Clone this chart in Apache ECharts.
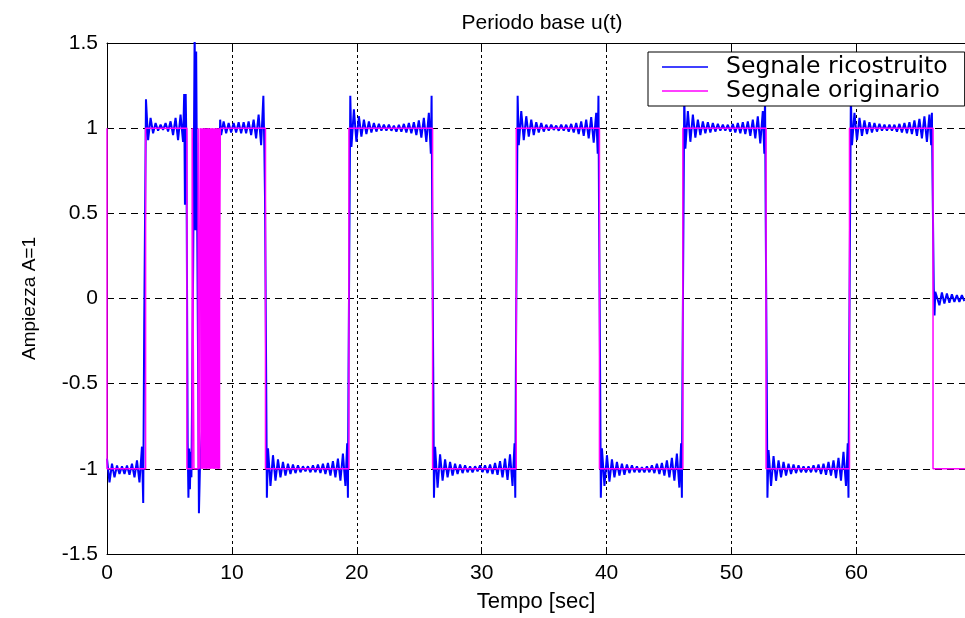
<!DOCTYPE html>
<html><head><meta charset="utf-8">
<script src="https://cdn.jsdelivr.net/npm/echarts@6/dist/echarts.min.js"></script>
<style>html,body{margin:0;padding:0;background:#fff}#c{width:965px;height:618px}</style>
</head><body><div id="c"></div>
<script>
// ---------- DATA ----------
const titleText = 'Periodo base u(t)';
const xName = 'Tempo [sec]';
const yName = 'Ampiezza A=1';
const seriesNames = ['Segnale ricostruito', 'Segnale originario'];

// Original signal: switch times and the level held from each time on
const origT = [0, 0, 3.09, 6.40, 6.82, 6.96, 7.30, 7.40,
  7.47, 7.63, 7.79, 7.95, 8.11, 8.27, 8.43, 8.59, 8.75, 8.91, 9.07,
  12.69, 19.37, 26.07, 32.77, 39.43, 46.11, 52.77, 59.45, 66.14, 68.7];
const origV = [1, -1, 1, -1, 1, -1, 1, -1,
  1, -1, 1, -1, 1, -1, 1, -1, 1, -1, 1,
  -1, 1, -1, 1, -1, 1, -1, 1, -1, -1];
// Stretch where the original signal switches so fast it reads as a solid block
const fastSwitchStart = 7.47;
const fastSwitchEnd = 9.07;

// Reconstructed signal: ringing samples on each plateau (sample step ringStep)
const ringStep = 0.2;
const ringStarts = [0, 3.29, 9.14, 12.89, 19.57, 26.27, 32.97, 39.63, 46.31, 52.97, 59.65, 66.45];
const ring0 = [-0.94, -1.08, -0.97, -1.05, -0.98, -1.03, -0.985, -1.03, -0.98, -1.035, -0.97, -1.05, -0.95, -1.08, -0.87];
const ring1 = [0.93, 1.06, 0.97, 1.03, 0.985, 1.02, 0.99, 1.03, 0.98, 1.04, 0.96, 1.06, 0.93, 1.08, 0.92];
const ring2 = [0.96, 1.04, 0.97, 1.03, 0.975, 1.03, 0.975, 1.035, 0.97, 1.035, 0.97, 1.04, 0.96, 1.05, 0.94, 1.08, 0.9];
const ring3 = [-0.88, -1.10, -0.92, -1.07, -0.945, -1.05, -0.96, -1.04, -0.97, -1.03, -0.975, -1.025, -0.98, -1.02, -0.985, -1.015, -0.985, -1.02, -0.98, -1.02, -0.975, -1.025, -0.97, -1.03, -0.965, -1.04, -0.955, -1.05, -0.94, -1.07, -0.91, -1.1];
const ring4 = [0.89, 1.11, 0.92, 1.07, 0.95, 1.05, 0.965, 1.04, 0.975, 1.03, 0.98, 1.025, 0.985, 1.02, 0.985, 1.02, 0.985, 1.015, 0.98, 1.02, 0.98, 1.025, 0.975, 1.03, 0.97, 1.035, 0.96, 1.045, 0.945, 1.06, 0.92, 1.09];
const ring5 = [-0.87, -1.11, -0.915, -1.07, -0.945, -1.05, -0.96, -1.04, -0.97, -1.03, -0.975, -1.025, -0.98, -1.02, -0.985, -1.02, -0.985, -1.015, -0.98, -1.02, -0.98, -1.025, -0.975, -1.03, -0.965, -1.035, -0.955, -1.05, -0.94, -1.065, -0.915, -1.1];
const ring6 = [0.90, 1.10, 0.93, 1.07, 0.95, 1.05, 0.96, 1.035, 0.975, 1.03, 0.98, 1.02, 0.985, 1.02, 0.99, 1.015, 0.985, 1.02, 0.985, 1.02, 0.98, 1.025, 0.975, 1.03, 0.965, 1.04, 0.955, 1.05, 0.94, 1.065, 0.915, 1.09];
const ring7 = [-0.88, -1.1, -0.92, -1.075, -0.945, -1.05, -0.96, -1.04, -0.97, -1.035, -0.975, -1.025, -0.98, -1.02, -0.985, -1.02, -0.99, -1.02, -0.985, -1.02, -0.98, -1.025, -0.97, -1.03, -0.965, -1.04, -0.95, -1.05, -0.935, -1.07, -0.91, -1.11];
const ring8 = [0.88, 1.10, 0.92, 1.08, 0.945, 1.05, 0.96, 1.04, 0.97, 1.035, 0.975, 1.03, 0.98, 1.025, 0.985, 1.02, 0.985, 1.02, 0.98, 1.025, 0.975, 1.03, 0.97, 1.035, 0.965, 1.04, 0.955, 1.05, 0.94, 1.07, 0.91, 1.1];
const ring9 = [-0.89, -1.1, -0.925, -1.07, -0.95, -1.05, -0.96, -1.04, -0.97, -1.03, -0.975, -1.025, -0.98, -1.02, -0.985, -1.02, -0.985, -1.02, -0.98, -1.02, -0.975, -1.03, -0.97, -1.035, -0.96, -1.04, -0.95, -1.055, -0.935, -1.07, -0.9, -1.1];
const ring10 = [0.90, 1.09, 0.93, 1.06, 0.955, 1.045, 0.965, 1.035, 0.975, 1.03, 0.98, 1.025, 0.985, 1.02, 0.985, 1.02, 0.985, 1.02, 0.98, 1.025, 0.975, 1.03, 0.97, 1.035, 0.965, 1.045, 0.955, 1.055, 0.94, 1.07, 0.92, 1.08];
const ring11 = [0.05, -0.04, 0.035, -0.03, 0.03, -0.025, 0.025, -0.02, 0.02, -0.02, 0.02, -0.015];

// Reconstructed signal: points around the jumps and the irregular stretch
const transT = [2.9, 2.98, 3.12,
  6.18, 6.24, 6.3, 6.36, 6.46, 6.52, 6.58, 6.64, 6.7, 6.76, 6.9, 7.02, 7.08, 7.14, 7.3, 7.36, 7.44, 8.2, 8.98, 9.06,
  12.52, 12.6, 12.65, 12.74, 12.8,
  19.23, 19.29, 19.34, 19.42, 19.48,
  25.93, 25.99, 26.04, 26.12, 26.18,
  32.63, 32.69, 32.74, 32.82, 32.88,
  39.29, 39.35, 39.40, 39.48, 39.54,
  45.97, 46.03, 46.08, 46.16, 46.22,
  52.63, 52.69, 52.74, 52.82, 52.88,
  59.31, 59.37, 59.42, 59.50, 59.56,
  65.99, 66.05, 66.1, 66.2, 66.26, 66.32];
const transY = [-1.2, -0.15, 1.17,
  1.2, 0.55, 1.2, 0.9, -0.85, -1.17, -0.88, -1.12, -0.9, -1.05, 0.2, 1.6, 0.4, 1.45, -0.47, -1.26, -1.0, 0.0, 0.71, 1.05,
  1.19, 0.88, 0.6, -0.4, -1.17,
  -0.85, -1.17, -0.4, 0.5, 1.19,
  0.85, 1.19, 0.5, -0.4, -1.17,
  -0.85, -1.17, -0.4, 0.5, 1.19,
  0.85, 1.19, 0.5, -0.4, -1.17,
  -0.85, -1.17, -0.4, 0.5, 1.19,
  0.85, 1.19, 0.5, -0.4, -1.17,
  -0.85, -1.17, -0.4, 0.5, 1.19,
  0.9, 1.09, 0.7, 0.06, -0.1, 0.04];

// ---------- BUILD ----------
const rings = [ring0, ring1, ring2, ring3, ring4, ring5, ring6, ring7, ring8, ring9, ring10, ring11];
const blue = [];
rings.forEach((r, k) => r.forEach((v, i) => blue.push([+(ringStarts[k] + i * ringStep).toFixed(3), v])));
transT.forEach((t, i) => blue.push([t, transY[i]]));
blue.sort((a, b) => a[0] - b[0]);
const orig = origT.map((t, i) => [t, origV[i]]);

const sans = "'Liberation Sans', Arial, sans-serif";
const chart = echarts.init(document.getElementById('c'), null, {renderer: 'canvas'});
chart.setOption({
  animation: false,
  backgroundColor: '#ffffff',
  title: {
    text: titleText, left: 537, top: 8, textAlign: 'center',
    textStyle: {fontFamily: sans, fontSize: 21, fontWeight: 'normal', color: '#000'}
  },
  legend: {
    data: seriesNames, orient: 'vertical', left: 648, top: 52,
    icon: 'rect', itemWidth: 46, itemHeight: 1.5, itemGap: 0,
    padding: [3, 17, 3, 14],
    borderColor: '#000', borderWidth: 1, backgroundColor: '#fff',
    textStyle: {fontFamily: "'DejaVu Sans', sans-serif", fontSize: 23.5, lineHeight: 23, color: '#000', padding: [0, 0, 0, 13]}
  },
  grid: {left: 107, top: 43, width: 861, height: 517},
  xAxis: [{
    type: 'value', min: 0, max: 68.7, interval: 10, position: 'bottom',
    name: xName, nameLocation: 'middle', nameGap: 37,
    nameTextStyle: {fontFamily: sans, fontSize: 22, color: '#000'},
    axisLine: {show: true, onZero: false, lineStyle: {color: '#000', width: 1}},
    axisTick: {show: true, inside: true, length: 6, lineStyle: {color: '#000'}},
    axisLabel: {margin: 9, showMaxLabel: false, fontFamily: sans, fontSize: 21, color: '#000'},
    splitLine: {show: true, lineStyle: {color: '#000', type: [3, 3], width: 1}}
  }, {
    type: 'value', min: 0, max: 68.7, interval: 10, position: 'top',
    axisLine: {show: true, onZero: false, lineStyle: {color: '#000', width: 1}},
    axisTick: {show: true, inside: true, length: 6, lineStyle: {color: '#000'}},
    axisLabel: {show: false}, splitLine: {show: false}
  }],
  yAxis: {
    type: 'value', min: -1.5, max: 1.5, interval: 0.5,
    name: yName, nameLocation: 'middle', nameGap: 68, nameRotate: 90,
    nameTextStyle: {fontFamily: sans, fontSize: 19, color: '#000'},
    axisLine: {show: true, onZero: false, lineStyle: {color: '#000', width: 1}},
    axisTick: {show: true, inside: true, length: 6, lineStyle: {color: '#000'}},
    axisLabel: {margin: 9, fontFamily: sans, fontSize: 21, color: '#000'},
    splitLine: {show: true, lineStyle: {color: '#000', type: [7, 5], width: 1}}
  },
  series: [{
    name: seriesNames[0], type: 'line', data: blue, showSymbol: false, symbol: 'none',
    lineStyle: {color: '#0000ff', width: 2}, itemStyle: {color: '#0000ff'}, z: 2, clip: true
  }, {
    name: seriesNames[1], type: 'line', data: orig, step: 'end', showSymbol: false, symbol: 'none',
    lineStyle: {color: '#ff00ff', width: 1.5}, itemStyle: {color: '#ff00ff'}, z: 3, clip: true,
    markArea: {
      silent: true, z: 10,
      itemStyle: {color: '#ff00ff', opacity: 1, borderWidth: 0},
      data: [[{coord: [fastSwitchStart, -1]}, {coord: [fastSwitchEnd, 1]}]]
    }
  }]
});
</script>
</body></html>
